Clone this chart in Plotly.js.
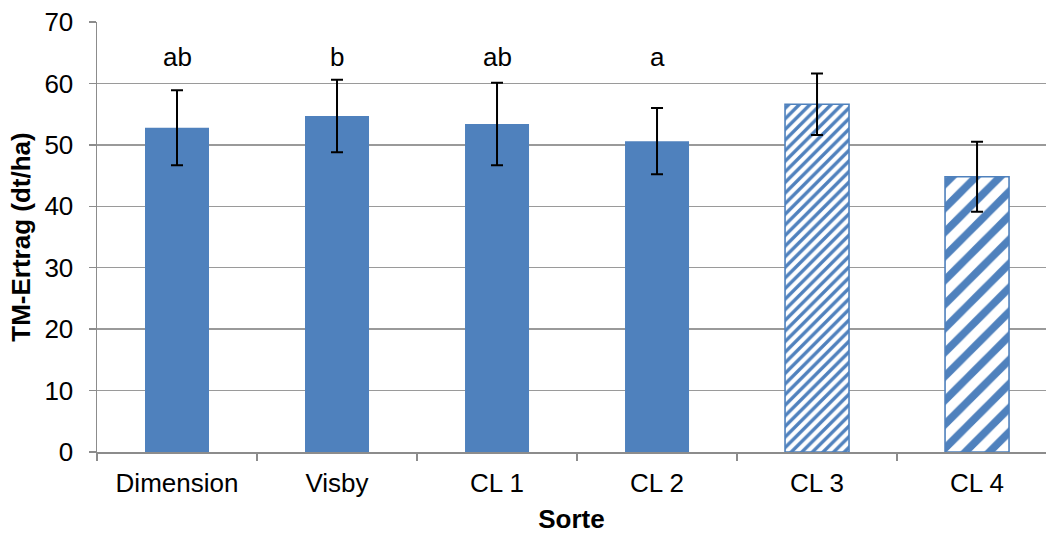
<!DOCTYPE html>
<html>
<head>
<meta charset="utf-8">
<script src="https://cdn.plot.ly/plotly-3.0.1.min.js"></script>
<style>html,body{margin:0;padding:0;background:#fff;}#chart{width:1046px;height:534px;}</style>
</head>
<body>
<div id="chart"></div>
<script>
// Data
const categories = ["Dimension", "Visby", "CL 1", "CL 2", "CL 3", "CL 4"];
const yieldValues = [52.8, 54.7, 53.4, 50.6, 56.6, 44.8];
const errorValues = [6.1, 5.9, 6.7, 5.4, 5.0, 5.7];
const letters = ["ab", "b", "ab", "a", "", ""];
const hatched = [false, false, false, false, true, true];
const hatchSizes = [0, 0, 0, 0, 7.5, 17];

const BLUE = "#4F81BD";
const LETTER_Y = 64.3;
const FONT = "Arial, 'Liberation Sans', sans-serif";
const FS = 26;

const barTrace = {
  type: "bar",
  x: categories,
  y: yieldValues,
  width: 0.4,
  marker: {
    color: BLUE,
    line: { color: BLUE, width: hatched.map(h => h ? 1.6 : 0) },
    pattern: {
      shape: hatched.map(h => h ? "/" : ""),
      fgcolor: BLUE,
      bgcolor: "#ffffff",
      size: hatchSizes.map(s => s || 8),
      solidity: 0.45,
      fillmode: "replace"
    }
  },
  error_y: {
    type: "data",
    array: errorValues,
    visible: true,
    color: "#000000",
    thickness: 2,
    width: 6
  },
  hoverinfo: "x+y"
};

const annotations = categories.map((c, i) => ({
  x: c, y: LETTER_Y, xref: "x", yref: "y",
  text: letters[i], showarrow: false,
  font: { family: FONT, size: FS, color: "#000" }
})).filter(a => a.text !== "");

const layout = {
  width: 1046, height: 534,
  margin: { l: 97, r: 0, t: 22, b: 82, pad: 0 },
  paper_bgcolor: "#ffffff",
  plot_bgcolor: "#ffffff",
  showlegend: false,
  font: { family: FONT, size: FS, color: "#000" },
  xaxis: {
    type: "category",
    range: [-0.5, 5.431],
    tickson: "boundaries",
    ticks: "outside",
    ticklen: 7,
    tickwidth: 1.5,
    tickcolor: "#8c8c8c",
    showline: true,
    linecolor: "#8c8c8c",
    linewidth: 1.5,
    showgrid: false,
    zeroline: false,
    ticklabelstandoff: 7,
    tickfont: { family: FONT, size: FS, color: "#000" },
    title: { text: "<b>Sorte</b>", font: { family: FONT, size: FS, color: "#000" }, standoff: 14 }
  },
  yaxis: {
    range: [0, 70],
    dtick: 10,
    tick0: 0,
    ticks: "outside",
    ticklen: 7,
    tickwidth: 1.5,
    tickcolor: "#8c8c8c",
    showline: true,
    linecolor: "#8c8c8c",
    linewidth: 1.5,
    showgrid: true,
    gridcolor: "#9a9a9a",
    gridwidth: 1.5,
    zeroline: false,
    tickfont: { family: FONT, size: FS, color: "#000" },
    ticklabelstandoff: 10,
    title: { text: "<b>TM-Ertrag (dt/ha)</b>", font: { family: FONT, size: FS, color: "#000" }, standoff: 6 }
  },
  annotations: annotations
};

Plotly.newPlot("chart", [barTrace], layout, { displayModeBar: false, staticPlot: true });
</script>
</body>
</html>
